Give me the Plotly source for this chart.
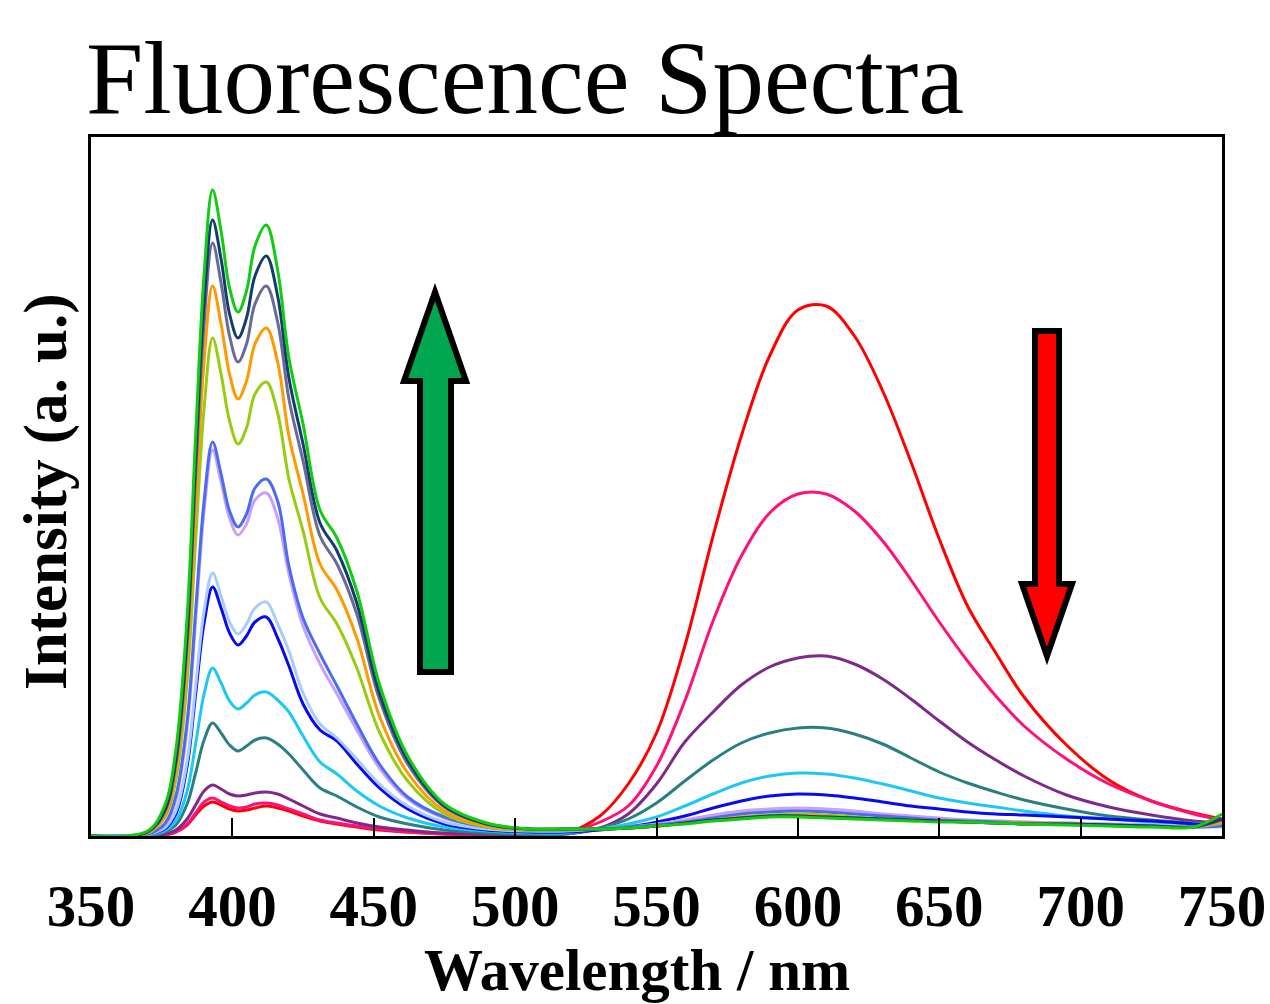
import plotly.graph_objects as go

# Wavelength grid (nm)
wavelength = [350, 370, 376, 380, 384, 387, 390, 393, 396, 399, 402, 405, 408, 412, 416, 420,
              425, 431, 437, 444, 452, 462, 475, 490, 505, 518,
              530, 540, 550, 560, 570, 580, 590, 600, 610, 620, 630, 640, 650, 660, 670, 680,
              695, 710, 725, 740, 750]

# Intensity (a.u.) per spectrum
s_red = [0, 0, 1, 4, 11, 21, 30, 34, 31, 27, 25, 26, 28, 30, 28, 25, 20, 15, 12, 9, 6, 4, 2, 1, 1, 3,
         20, 52, 103, 190, 300, 400, 480, 526, 530, 500, 445, 374, 297, 230, 183, 139, 91, 56, 35, 23, 17]
s_pink = [0, 0, 1, 4, 12, 23, 34, 38, 34, 30, 28, 29, 32, 33, 31, 27, 22, 16, 13, 10, 7, 4, 2, 1, 1, 3,
          14, 30, 70, 135, 215, 280, 323, 342, 342, 325, 295, 256, 214, 175, 140, 110, 77, 52, 35, 22, 16]
s_purple = [0, 0, 2, 6, 17, 31, 45, 51, 47, 42, 40, 41, 43, 44, 42, 37, 30, 22, 18, 13, 9, 6, 3, 2, 1, 2,
            8, 22, 52, 94, 124, 151, 169, 178, 180, 172, 157, 137, 115, 94, 76, 60, 41, 29, 21, 15, 13]
s_teal = [0, 1, 4, 11, 32, 63, 96, 113, 103, 91, 85, 90, 96, 98, 92, 82, 66, 48, 40, 29, 19, 12, 6, 3, 2, 2,
          8, 17, 33, 55, 76, 93, 103, 108, 108, 102, 92, 78, 64, 53, 44, 36, 27, 20, 16, 13, 11]
s_cyan = [0, 1, 5, 15, 45, 92, 142, 168, 153, 135, 127, 133, 141, 144, 136, 124, 100, 74, 62, 45, 30, 18, 9, 5, 3, 3,
          7, 12, 19, 30, 42, 53, 60, 63, 62, 58, 52, 45, 38, 33, 29, 25, 20, 17, 14, 12, 11]
s_blue = [0, 2, 7, 22, 70, 142, 213, 249, 228, 203, 191, 200, 214, 219, 198, 170, 132, 106, 95, 72, 48, 27, 12, 6, 4, 4,
          6, 9, 14, 20, 28, 35, 40, 42, 41, 38, 34, 30, 27, 24, 22, 21, 19, 17, 15, 12, 10]
s_lightblue = [0, 2, 8, 25, 75, 150, 225, 263, 240, 214, 202, 212, 228, 234, 212, 185, 143, 112, 98, 77, 52, 30, 14, 7, 5, 5,
               7, 9, 11, 15, 19, 23, 25, 26, 25, 23, 21, 19, 17, 16, 15, 14, 13, 12, 11, 9, 9]
s_lilac = [0, 2, 10, 36, 108, 215, 325, 386, 354, 318, 301, 312, 336, 343, 318, 262, 210, 172, 142, 106, 68, 37, 18, 9, 6, 6,
           7, 9, 12, 16, 21, 25, 27, 28, 27, 25, 22, 20, 18, 16, 15, 14, 13, 12, 11, 9, 10]
s_royal = [0, 2, 12, 40, 115, 225, 335, 394, 362, 325, 309, 322, 348, 357, 335, 270, 218, 182, 150, 112, 72, 39, 19, 9, 6, 6,
           7, 9, 11, 14, 18, 22, 24, 25, 24, 22, 20, 18, 16, 15, 14, 13, 12, 11, 10, 9, 10]
s_ygreen = [0, 3, 18, 56, 155, 295, 428, 498, 462, 415, 392, 408, 442, 454, 423, 357, 305, 238, 212, 168, 104, 55, 22, 9, 6, 6,
            7, 8, 10, 13, 16, 19, 21, 22, 21, 19, 17, 16, 15, 14, 13, 13, 12, 11, 10, 9, 13]
s_orange = [0, 3, 20, 64, 175, 330, 475, 550, 512, 462, 437, 455, 492, 508, 474, 400, 342, 272, 246, 198, 120, 63, 25, 10, 7, 7,
            7, 8, 10, 13, 16, 19, 20, 21, 20, 18, 17, 16, 15, 14, 13, 13, 12, 11, 10, 9, 14]
s_grayp = [0, 4, 24, 72, 192, 360, 513, 593, 553, 500, 474, 492, 532, 550, 514, 437, 375, 300, 272, 222, 137, 72, 29, 12, 7, 7,
           7, 8, 10, 13, 16, 18, 20, 20, 19, 18, 17, 16, 15, 14, 13, 12, 12, 11, 10, 9, 16]
s_navy = [0, 4, 25, 75, 200, 375, 533, 616, 577, 522, 498, 518, 560, 580, 540, 458, 392, 313, 285, 233, 143, 76, 30, 12, 7, 7,
          7, 8, 10, 13, 16, 18, 20, 20, 19, 18, 17, 16, 15, 14, 13, 12, 12, 11, 10, 9, 17]
s_green = [0, 5, 30, 86, 220, 400, 562, 646, 605, 548, 524, 545, 590, 611, 566, 478, 412, 326, 298, 245, 152, 80, 32, 13, 7, 7,
           7, 8, 10, 12, 15, 17, 19, 19, 18, 17, 16, 15, 14, 14, 13, 12, 11, 10, 9, 9, 22]

series = [s_red, s_pink, s_purple, s_teal, s_cyan, s_blue, s_lightblue, s_lilac,
          s_royal, s_ygreen, s_orange, s_grayp, s_navy, s_green]
colors = ["#FF0000", "#FF1177", "#7F2A8A", "#2A8080", "#1EC8F5", "#0A0AF0", "#A9CCFF", "#C8A0F8",
          "#4A6CF0", "#99CC11", "#FF9900", "#6A6A9A", "#143C6C", "#11CC11"]

x_ticks = [350, 400, 450, 500, 550, 600, 650, 700, 750]

fig = go.Figure()
for vals, col in zip(series, colors):
    fig.add_trace(go.Scatter(x=wavelength, y=vals, mode="lines",
                             line=dict(color=col, width=3, shape="spline", smoothing=1.0),
                             showlegend=False, hoverinfo="skip"))

# layout geometry (pixels)
W, H = 1270, 1004
L, R, T, B = 91, 1222, 137, 836


def px(xp):
    return (xp - L) / (R - L)


def py(yp):
    return (B - yp) / (B - T)


def path(points):
    return "M " + " L ".join(f"{px(a):.5f},{py(b):.5f}" for a, b in points) + " Z"


green_arrow = [(435, 292), (466, 381), (451, 381), (451, 672), (420, 672), (420, 381), (404, 381)]
red_arrow = [(1035, 331), (1059, 331), (1059, 584), (1072, 584), (1047, 656), (1022, 584), (1035, 584)]

shapes = [
    dict(type="path", xref="paper", yref="paper", path=path(green_arrow),
         fillcolor="#00A650", line=dict(color="black", width=6)),
    dict(type="path", xref="paper", yref="paper", path=path(red_arrow),
         fillcolor="#FF0000", line=dict(color="black", width=6)),
]

serif = "Liberation Serif, Times New Roman, serif"
annotations = [
    dict(text="Fluorescence Spectra", xref="paper", yref="paper", x=px(84), y=py(78),
         xanchor="left", yanchor="middle", showarrow=False,
         font=dict(family=serif, size=103, color="black")),
    dict(text="<b>Wavelength / nm</b>", xref="paper", yref="paper", x=px(637), y=py(970),
         xanchor="center", yanchor="middle", showarrow=False,
         font=dict(family=serif, size=59, color="black")),
    dict(text="<b>Intensity (a. u.)</b>", xref="paper", yref="paper", x=px(46), y=py(492),
         xanchor="center", yanchor="middle", showarrow=False, textangle=-90,
         font=dict(family=serif, size=61, color="black")),
]

fig.update_layout(
    width=W, height=H,
    margin=dict(l=L, r=W - R, t=T, b=H - B, pad=0),
    paper_bgcolor="white", plot_bgcolor="white",
    shapes=shapes, annotations=annotations,
    xaxis=dict(range=[350, 750], tickmode="array", tickvals=x_ticks,
               ticktext=[str(v) for v in x_ticks], automargin=False,
               ticks="inside", ticklen=18, tickwidth=1.5, tickcolor="black",
               showline=True, linecolor="black", linewidth=2.5, mirror=True,
               showgrid=False, zeroline=False, ticklabelstandoff=16,
               tickfont=dict(family=serif, size=59, color="black", weight="bold")),
    yaxis=dict(range=[0, 699], showticklabels=False, ticks="", automargin=False,
               showline=True, linecolor="black", linewidth=2.5, mirror=True,
               showgrid=False, zeroline=False),
)

fig.write_html("out.html")
